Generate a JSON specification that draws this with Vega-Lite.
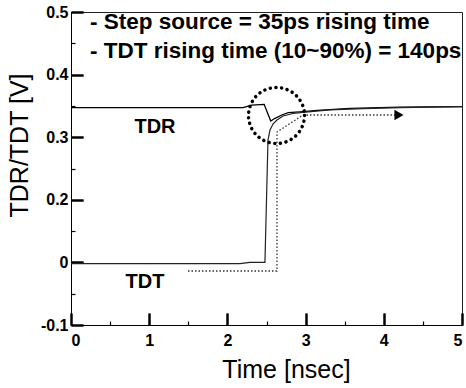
{
  "$schema": "https://vega.github.io/schema/vega-lite/v6.json",
  "width": 391,
  "height": 313,
  "autosize": {"type": "none"},
  "padding": {"left": 71, "top": 12, "right": 4, "bottom": 63},
  "background": "white",
  "config": {
    "view": {"stroke": "#222", "strokeWidth": 1},
    "axis": {"labelFont": "Liberation Sans", "titleFont": "Liberation Sans", "domainColor": "black", "labelColor": "black", "titleColor": "black", "grid": false}
  },
  "datasets": {
    "curves": [
      {"series": "TDR", "i": 1, "t": 0, "v": 0.3474},
      {"series": "TDR", "i": 2, "t": 1.01, "v": 0.3474},
      {"series": "TDR", "i": 3, "t": 2.2, "v": 0.3474},
      {"series": "TDR", "i": 4, "t": 2.31, "v": 0.3514},
      {"series": "TDR", "i": 5, "t": 2.47, "v": 0.3525},
      {"series": "TDR", "i": 6, "t": 2.554, "v": 0.3259},
      {"series": "TDR", "i": 7, "t": 2.609, "v": 0.3302},
      {"series": "TDR", "i": 8, "t": 2.695, "v": 0.3355},
      {"series": "TDR", "i": 9, "t": 2.779, "v": 0.3391},
      {"series": "TDR", "i": 10, "t": 2.967, "v": 0.341},
      {"series": "TDR", "i": 11, "t": 3.146, "v": 0.3427},
      {"series": "TDR", "i": 12, "t": 3.568, "v": 0.3462},
      {"series": "TDR", "i": 13, "t": 4.207, "v": 0.3482},
      {"series": "TDR", "i": 14, "t": 5, "v": 0.349},
      {"series": "TDT", "i": 1, "t": 0, "v": -0.002},
      {"series": "TDT", "i": 2, "t": 2.16, "v": -0.002},
      {"series": "TDT", "i": 3, "t": 2.29, "v": 0.0},
      {"series": "TDT", "i": 4, "t": 2.48, "v": 0.0},
      {"series": "TDT", "i": 5, "t": 2.519, "v": 0.2955},
      {"series": "TDT", "i": 6, "t": 2.545, "v": 0.3115},
      {"series": "TDT", "i": 7, "t": 2.583, "v": 0.3211},
      {"series": "TDT", "i": 8, "t": 2.634, "v": 0.3275},
      {"series": "TDT", "i": 9, "t": 2.711, "v": 0.3339},
      {"series": "TDT", "i": 10, "t": 2.839, "v": 0.3379},
      {"series": "TDT", "i": 11, "t": 2.967, "v": 0.3398},
      {"series": "TDT", "i": 12, "t": 3.312, "v": 0.3435},
      {"series": "TDT", "i": 13, "t": 3.734, "v": 0.3458},
      {"series": "TDT", "i": 14, "t": 4.207, "v": 0.3474},
      {"series": "TDT", "i": 15, "t": 5, "v": 0.349},
      {"series": "Step", "i": 1, "t": 1.496, "v": -0.0137},
      {"series": "Step", "i": 2, "t": 2.634, "v": -0.0137},
      {"series": "Step", "i": 3, "t": 2.634, "v": 0.3083},
      {"series": "Step", "i": 4, "t": 2.967, "v": 0.3355},
      {"series": "Step", "i": 5, "t": 4.143, "v": 0.3355}
    ],
    "symbols": [
      {"kind": "circle", "t": 2.628, "v": 0.3347},
      {"kind": "arrow", "t": 4.194, "v": 0.3355}
    ],
    "notes": [
      {"kind": "note", "label": "- Step source = 35ps rising time", "t": 0.243, "v": 0.4735},
      {"kind": "note", "label": "- TDT rising time (10~90%) = 140ps", "t": 0.243, "v": 0.4272},
      {"kind": "tag", "label": "TDR", "t": 1.074, "v": 0.3073},
      {"kind": "tag", "label": "TDT", "t": 0.946, "v": -0.0409}
    ]
  },
  "layer": [
    {
      "data": {"name": "curves"},
      "transform": [{"filter": "datum.series === 'TDR'"}],
      "mark": {"type": "line", "color": "black", "strokeWidth": 1.3},
      "encoding": {
        "x": {"field": "t", "type": "quantitative",
          "scale": {"domain": [0, 5], "nice": false, "zero": false},
          "axis": {"values": [0, 1, 2, 3, 4, 5], "tickSize": -12, "tickColor": "black", "tickWidth": 2,
            "labelFontSize": 16, "labelFontWeight": "bold", "labelPadding": 19,
            "title": "Time [nsec]", "titleFontSize": 25, "titleFontWeight": "normal",
            "titleX": 215, "titleY": 52, "titleAlign": "center", "titleBaseline": "alphabetic"}},
        "y": {"field": "v", "type": "quantitative",
          "scale": {"domain": [-0.1, 0, 0.2, 0.5], "range": [313, 250.4, 187.8, 0], "nice": false, "zero": false},
          "axis": {"values": [-0.1, 0, 0.2, 0.3, 0.4, 0.5], "tickSize": -12, "tickColor": "black", "tickWidth": 2,
            "labelFontSize": 16, "labelFontWeight": "bold", "labelPadding": 15,
            "labelExpr": "datum.value === 0 ? '0' : (datum.value < 0 ? '-' + format(-datum.value, '.1f') : format(datum.value, '.1f'))",
            "title": "TDR/TDT [V]", "titleFontSize": 25, "titleFontWeight": "normal",
            "titleX": -44, "titleY": 133, "titleAlign": "center", "titleBaseline": "alphabetic", "titleAngle": 270}},
        "order": {"field": "i", "type": "quantitative"}
      }
    },
    {
      "data": {"name": "curves"},
      "transform": [{"filter": "datum.series === 'TDT'"}],
      "mark": {"type": "line", "color": "#222", "strokeWidth": 1.2},
      "encoding": {
        "x": {"field": "t", "type": "quantitative",
          "axis": {"orient": "bottom", "values": [0.5, 1.5, 2.5, 3.5, 4.5], "offset": -4, "tickSize": 4, "tickColor": "black", "tickWidth": 1.2, "domainColor": "transparent", "labelExpr": "''", "title": null}},
        "y": {"field": "v", "type": "quantitative",
          "axis": {"orient": "left", "values": [-0.05, 0.1, 0.25, 0.35, 0.45], "offset": -4, "tickSize": 4, "tickColor": "black", "tickWidth": 1.2, "domainColor": "transparent", "labelExpr": "''", "title": null}},
        "order": {"field": "i", "type": "quantitative"}
      }
    },
    {
      "data": {"name": "curves"},
      "transform": [{"filter": "datum.series === 'Step'"}],
      "mark": {"type": "line", "color": "#333", "strokeWidth": 1.3, "strokeDash": [1.5, 2]},
      "encoding": {
        "x": {"field": "t", "type": "quantitative",
          "axis": {"orient": "bottom", "values": [0, 1, 2, 3, 4, 5], "offset": -12, "tickSize": 12, "tickColor": "black", "tickWidth": 2, "domainColor": "transparent", "labelExpr": "''", "title": null}},
        "y": {"field": "v", "type": "quantitative",
          "axis": {"orient": "left", "values": [-0.1, 0, 0.2, 0.3, 0.4, 0.5], "offset": -12, "tickSize": 12, "tickColor": "black", "tickWidth": 2, "domainColor": "transparent", "labelExpr": "''", "title": null}},
        "order": {"field": "i", "type": "quantitative"}
      }
    },
    {
      "data": {"name": "symbols"},
      "transform": [{"filter": "datum.kind === 'circle'"}],
      "mark": {"type": "point", "shape": "circle", "size": 3136, "filled": false, "stroke": "black", "strokeWidth": 3.5, "strokeDash": [0.1, 5.6], "strokeCap": "round", "opacity": 1},
      "encoding": {
        "x": {"field": "t", "type": "quantitative", "axis": null},
        "y": {"field": "v", "type": "quantitative", "axis": null}
      }
    },
    {
      "data": {"name": "symbols"},
      "transform": [{"filter": "datum.kind === 'arrow'"}],
      "mark": {"type": "point", "shape": "triangle-right", "size": 110, "filled": true, "color": "black", "opacity": 1},
      "encoding": {
        "x": {"field": "t", "type": "quantitative", "axis": null},
        "y": {"field": "v", "type": "quantitative", "axis": null}
      }
    },
    {
      "data": {"name": "notes"},
      "transform": [{"filter": "datum.kind === 'note'"}],
      "mark": {"type": "text", "align": "left", "baseline": "alphabetic", "font": "Liberation Sans", "fontSize": 22.5, "fontWeight": "bold", "color": "black"},
      "encoding": {
        "x": {"field": "t", "type": "quantitative", "axis": null},
        "y": {"field": "v", "type": "quantitative", "axis": null},
        "text": {"field": "label"}
      }
    },
    {
      "data": {"name": "notes"},
      "transform": [{"filter": "datum.kind === 'tag'"}],
      "mark": {"type": "text", "align": "center", "baseline": "alphabetic", "font": "Liberation Sans", "fontSize": 20, "fontWeight": "bold", "color": "black"},
      "encoding": {
        "x": {"field": "t", "type": "quantitative", "axis": null},
        "y": {"field": "v", "type": "quantitative", "axis": null},
        "text": {"field": "label"}
      }
    }
  ],
  "resolve": {"axis": {"x": "independent", "y": "independent"}}
}
